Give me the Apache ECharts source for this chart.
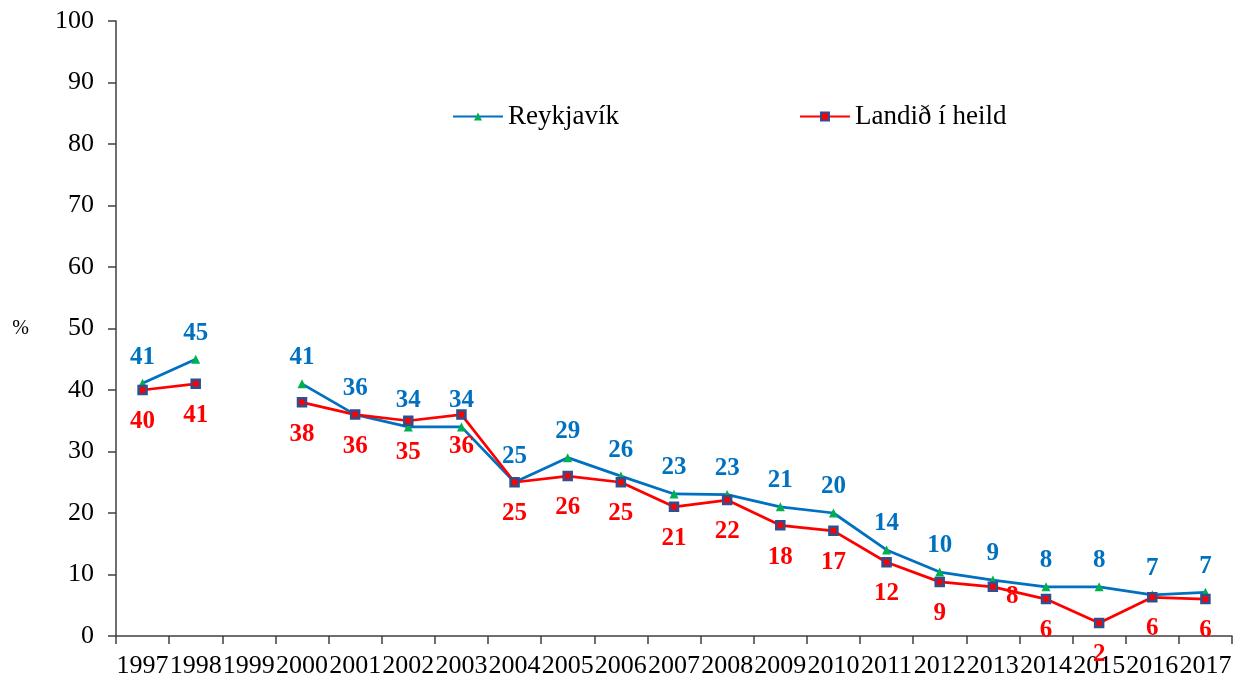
<!DOCTYPE html>
<html>
<head>
<meta charset="utf-8">
<script src="https://cdn.jsdelivr.net/npm/echarts@6/dist/echarts.min.js"></script>
<style>
html,body{margin:0;padding:0;background:#fff;}
#chart{width:1248px;height:680px;}
</style>
</head>
<body>
<div id="chart"></div>
<script>
const years = ['1997','1998','1999','2000','2001','2002','2003','2004','2005','2006','2007','2008','2009','2010','2011','2012','2013','2014','2015','2016','2017'];
const reykjavik = [41.1,45,null,41,36,34,34,25,29,26,23.1,23,21,20,14,10.4,9.1,8,8,6.7,7.1];
const landid = [40,41,null,38,36,35,36,25,26,25,21,22.1,18,17.1,12,8.8,8,6,2.1,6.3,6];
const yTicks = [0,10,20,30,40,50,60,70,80,90,100];
const seriesNames = ['Reykjavík','Landið í heild'];

const FONT = "'Liberation Serif','Times New Roman',serif";
const chart = echarts.init(document.getElementById('chart'));

const landidData = landid.map((v, i) => years[i] === '2013'
  ? { value: v, label: { position: 'right', distance: 8, offset: [0, 10] } }
  : v);

chart.setOption({
  backgroundColor: '#fff',
  animation: false,
  grid: { left: 116, right: 16, top: 21, bottom: 44 },
  legend: {
    left: 447, top: 98,
    itemGap: 180,
    itemWidth: 50, itemHeight: 10,
    textStyle: { fontFamily: FONT, fontSize: 27, color: '#000' },
    data: seriesNames
  },
  xAxis: {
    type: 'category',
    data: years,
    boundaryGap: true,
    axisLine: { lineStyle: { color: '#404040', width: 1.5 } },
    axisTick: { show: true, length: 8, lineStyle: { color: '#404040', width: 1.5 } },
    axisLabel: { interval: 0, margin: 17, fontFamily: FONT, fontSize: 26, color: '#000' },
    splitLine: { show: false }
  },
  yAxis: {
    type: 'value',
    min: yTicks[0], max: yTicks[yTicks.length - 1], interval: 10,
    name: '%',
    nameLocation: 'middle',
    nameRotate: 0,
    nameGap: 87,
    nameTextStyle: { fontFamily: FONT, fontSize: 20, color: '#000' },
    axisLine: { show: true, lineStyle: { color: '#404040', width: 1.5 } },
    axisTick: { show: true, length: 8, lineStyle: { color: '#404040', width: 1.5 } },
    axisLabel: { margin: 22, fontFamily: FONT, fontSize: 26, color: '#000' },
    splitLine: { show: false }
  },
  series: [
    {
      name: seriesNames[0],
      type: 'line',
      data: reykjavik,
      connectNulls: false,
      symbol: 'triangle',
      symbolSize: 9,
      itemStyle: { color: '#00b050' },
      lineStyle: { color: '#0070c0', width: 2.75 },
      label: {
        show: true, position: 'top', distance: 9,
        formatter: p => Math.round(p.value),
        fontFamily: FONT, fontSize: 25, fontWeight: 'bold', color: '#0070c0'
      },
      z: 3
    },
    {
      name: seriesNames[1],
      type: 'line',
      data: landidData,
      connectNulls: false,
      symbol: 'rect',
      symbolSize: 8,
      itemStyle: { color: '#ff0000', borderColor: '#2f4f8f', borderWidth: 2.5 },
      lineStyle: { color: '#ff0000', width: 2.75 },
      label: {
        show: true, position: 'bottom', distance: 14,
        formatter: p => Math.round(p.value),
        fontFamily: FONT, fontSize: 25, fontWeight: 'bold', color: '#ff0000'
      },
      z: 4
    }
  ]
});
</script>
</body>
</html>
